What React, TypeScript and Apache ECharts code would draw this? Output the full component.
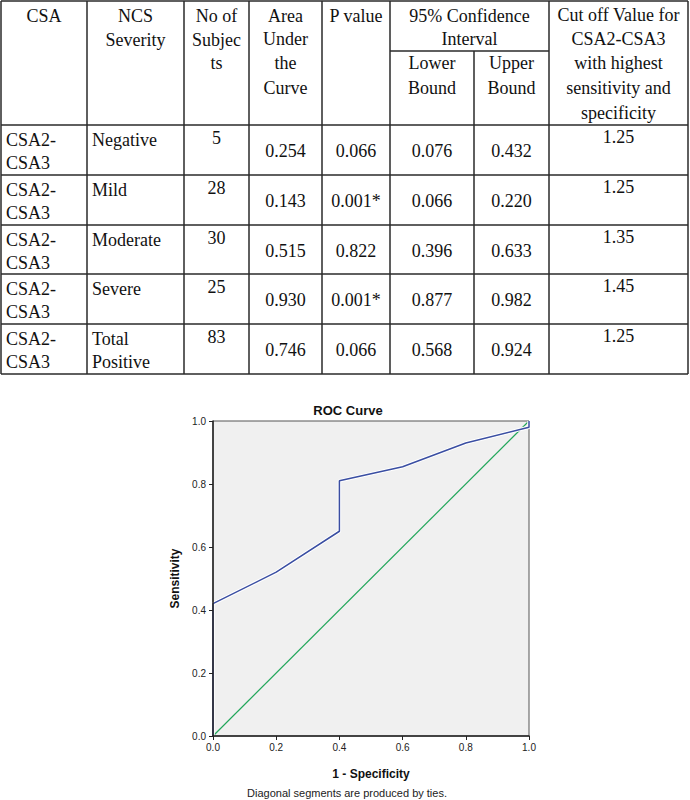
import React, { useEffect, useRef } from "react";
import * as echarts from "echarts";

// ---- Table data ----
const csaLabel = ["CSA2-", "CSA3"];
const severity = ["Negative", "Mild", "Moderate", "Severe", "Total Positive"];
const subjects = ["5", "28", "30", "25", "83"];
const auc = ["0.254", "0.143", "0.515", "0.930", "0.746"];
const pValues = ["0.066", "0.001*", "0.822", "0.001*", "0.066"];
const lowerBound = ["0.076", "0.066", "0.396", "0.877", "0.568"];
const upperBound = ["0.432", "0.220", "0.633", "0.982", "0.924"];
const cutOff = ["1.25", "1.25", "1.35", "1.45", "1.25"];

// ---- ROC data ----
const fpr = [0, 0, 0.2, 0.4, 0.4, 0.6, 0.8, 1.0, 1.0];
const tpr = [0, 0.42, 0.52, 0.65, 0.81, 0.855, 0.93, 0.98, 1.0];
const refLine = [0, 1];

const SERIF = "Liberation Serif";
const SANS = "Liberation Sans";

export default function App() {
  const ref = useRef<HTMLDivElement>(null);
  useEffect(() => {
    document.body.style.margin = "0";
    if (!ref.current) return;
    const chart = echarts.init(ref.current, null, { renderer: "svg" });

    const colX = [1, 87, 184, 249, 322, 390, 474, 549, 688];
    const rowY = [125, 175, 225, 274, 324, 374];
    const lineStyle = { stroke: "#2a2a2a", lineWidth: 1.5 };
    const g: any[] = [];
    const hline = (x1: number, x2: number, y: number) =>
      g.push({ type: "line", shape: { x1, y1: y, x2, y2: y }, style: lineStyle, silent: true });
    const vline = (x: number, y1: number, y2: number) =>
      g.push({ type: "line", shape: { x1: x, y1, x2: x, y2 }, style: lineStyle, silent: true });
    const txt = (text: string, x: number, y: number, align = "center") =>
      g.push({
        type: "text",
        x,
        y,
        silent: true,
        style: {
          text,
          textAlign: align,
          textVerticalAlign: "middle",
          fontFamily: SERIF,
          fontSize: 18,
          fill: "#111",
        },
      });
    const mid = (c: number) => (colX[c] + colX[c + 1]) / 2;

    // grid lines
    hline(colX[0], colX[8], 1);
    hline(colX[5], colX[7], 51);
    rowY.forEach((y) => hline(colX[0], colX[8], y));
    colX.forEach((x, i) => {
      if (i === 6) vline(x, 51, rowY[5]);
      else vline(x, 1, rowY[5]);
    });

    // header
    const headerLines = (c: number, lines: string[], ys: number[], cx?: number) =>
      lines.forEach((l, k) => txt(l, cx ?? mid(c), ys[k]));
    headerLines(0, ["CSA"], [16]);
    headerLines(1, ["NCS", "Severity"], [16, 40]);
    headerLines(2, ["No of", "Subjec", "ts"], [16, 40, 63]);
    headerLines(3, ["Area", "Under", "the", "Curve"], [16, 39, 63, 88]);
    headerLines(4, ["P value"], [16]);
    headerLines(5, ["95% Confidence", "Interval"], [16, 39], (colX[5] + colX[7]) / 2);
    headerLines(5, ["Lower", "Bound"], [63, 88]);
    headerLines(6, ["Upper", "Bound"], [63, 88]);
    headerLines(7, ["Cut off Value for", "CSA2-CSA3", "with highest", "sensitivity and", "specificity"], [15, 39, 63, 88, 113]);

    // rows
    severity.forEach((sev, i) => {
      const top = rowY[i];
      txt(csaLabel[0], 6, top + 15, "left");
      txt(csaLabel[1], 6, top + 38, "left");
      sev.split(" ").forEach((w, k) => txt(w, 92, top + 15 + k * 23, "left"));
      txt(subjects[i], mid(2), top + 13);
      txt(auc[i], mid(3), top + 26);
      txt(pValues[i], mid(4), top + 26);
      txt(lowerBound[i], mid(5), top + 26);
      txt(upperBound[i], mid(6), top + 26);
      txt(cutOff[i], mid(7), top + 12);
    });

    // chart texts
    g.push({
      type: "text",
      x: 348,
      y: 410,
      silent: true,
      style: { text: "ROC Curve", textAlign: "center", textVerticalAlign: "middle", fontFamily: SANS, fontSize: 13, fontWeight: "bold", fill: "#111" },
    });
    g.push({
      type: "text",
      x: 347,
      y: 793,
      silent: true,
      style: {
        text: "Diagonal segments are produced by ties.",
        textAlign: "center",
        textVerticalAlign: "middle",
        fontFamily: SANS,
        fontSize: 11,
        fill: "#222",
      },
    });

    const rocData = fpr.map((x, i) => [x, tpr[i]]);
    const diagData = refLine.map((v) => [v, v]);

    const axisCommon = {
      type: "value",
      min: 0,
      max: 1,
      interval: 0.2,
      splitLine: { show: false },
      axisLine: { show: true, lineStyle: { color: "#222", width: 1.5 } },
      axisTick: { show: true, length: 4, lineStyle: { color: "#222", width: 1 } },
      axisLabel: {
        fontSize: 10,
        fontFamily: SANS,
        color: "#222",
        formatter: (v: number) => v.toFixed(1),
      },
      nameLocation: "middle",
      nameGap: 32,
      nameTextStyle: { fontSize: 12, fontWeight: "bold", fontFamily: SANS, color: "#111" },
    };

    chart.setOption({
      animation: false,
      grid: {
        left: 213,
        top: 421,
        width: 316,
        height: 315,
        show: true,
        backgroundColor: "#f0f0f0",
        borderColor: "#555",
        borderWidth: 1,
      },
      xAxis: { ...axisCommon, name: "1 - Specificity", axisLabel: { ...axisCommon.axisLabel, margin: 6 }, z: 5 },
      yAxis: { ...axisCommon, name: "Sensitivity", axisLabel: { ...axisCommon.axisLabel, margin: 7 }, z: 5 },
      graphic: g,
      series: [
        {
          name: "Reference",
          type: "line",
          data: diagData,
          symbol: "none",
          lineStyle: { color: "#21a65a", width: 1.2 },
          z: 2,
          silent: true,
        },
        {
          name: "Halo",
          type: "line",
          data: rocData,
          symbol: "none",
          lineStyle: { color: "#ffffff", width: 3.5 },
          z: 3,
          silent: true,
        },
        {
          name: "ROC",
          type: "line",
          data: rocData,
          symbol: "none",
          lineStyle: { color: "#3a4ea2", width: 1.5 },
          z: 4,
          silent: true,
        },
      ],
    });
    return () => chart.dispose();
  }, []);
  return <div ref={ref} style={{ width: 690, height: 800 }} />;
}
